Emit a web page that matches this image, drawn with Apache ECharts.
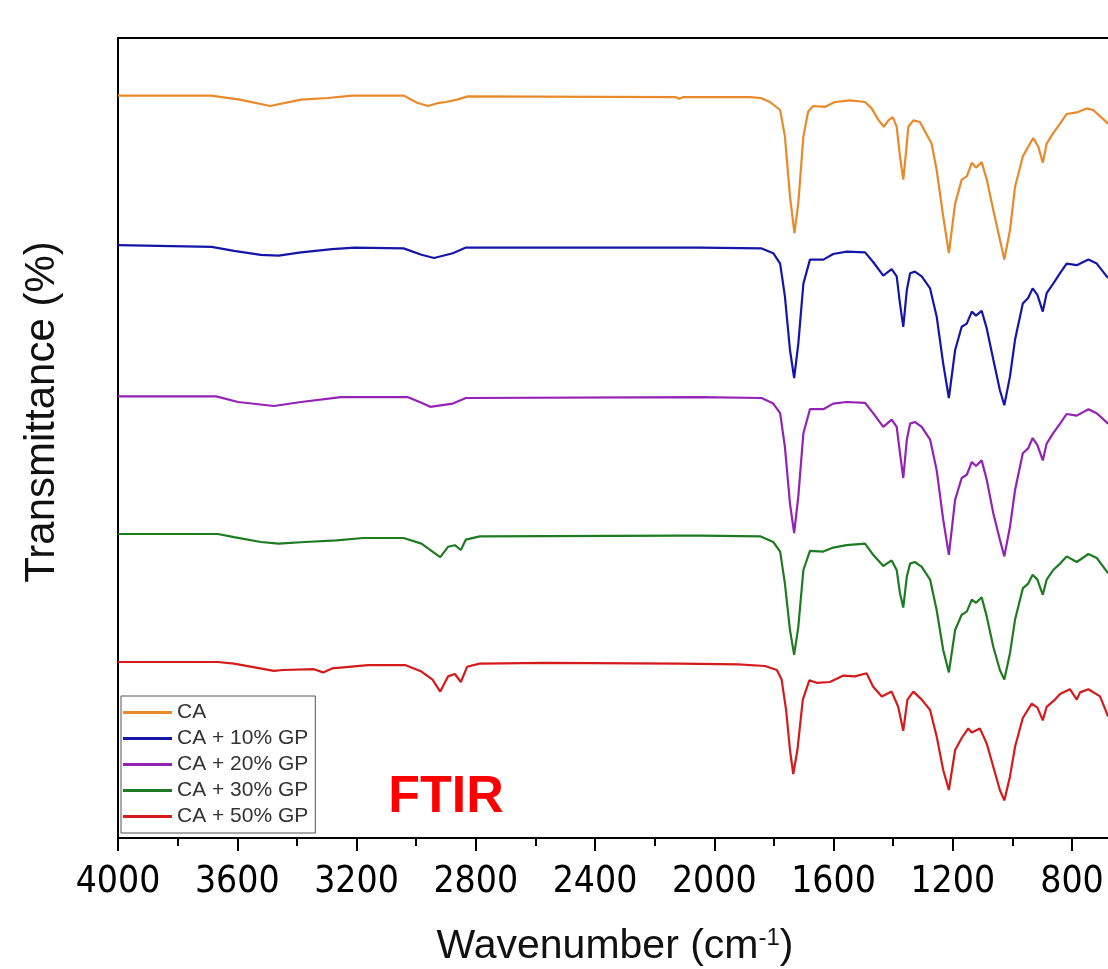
<!DOCTYPE html>
<html>
<head>
<meta charset="utf-8">
<script src="https://cdn.jsdelivr.net/npm/echarts@6/dist/echarts.min.js"></script>
<style>
  html, body { margin: 0; padding: 0; background: #fff; }
  #boot { width: 1108px; height: 969px; }
</style>
</head>
<body>
<div id="boot"></div>
<script>
// spectra: [wavenumber (cm-1), transmittance (offset, a.u.)]
var seriesNames = ['CA', 'CA + 10% GP', 'CA + 20% GP', 'CA + 30% GP', 'CA + 50% GP'];
var seriesColors = ['#E8892A', '#1515A8', '#9322B5', '#1E7B22', '#D41A1A'];

var caData = [
  [4000,92.8],[3688,92.8],[3591,92.3],[3490,91.5],[3386,92.3],[3296,92.5],[3215,92.8],[3041,92.8],
  [2997,91.9],[2960,91.5],[2923,91.9],[2900,92.0],[2863,92.3],[2826,92.7],[2128,92.6],[2118,92.4],
  [2105,92.6],[1881,92.6],[1844,92.5],[1813,92.0],[1779,91.0],[1763,87.7],[1746,80.2],[1731,75.6],
  [1718,79.4],[1701,87.7],[1685,90.8],[1668,91.5],[1628,91.4],[1595,92.0],[1545,92.2],[1494,92.0],
  [1472,91.2],[1450,89.8],[1431,88.9],[1416,89.7],[1401,90.1],[1388,88.9],[1377,85.2],[1366,82.3],
  [1357,85.6],[1349,88.9],[1332,89.7],[1310,89.5],[1287,87.9],[1271,86.8],[1254,83.5],[1232,77.7],
  [1213,73.1],[1192,79.3],[1170,82.3],[1153,82.7],[1136,84.4],[1122,83.8],[1103,84.5],[1086,82.3],
  [1064,78.5],[1042,74.8],[1027,72.3],[1008,76.0],[991,81.4],[965,85.2],[947,86.4],[930,87.5],
  [913,86.4],[898,84.4],[885,86.8],[863,88.1],[840,89.3],[818,90.5],[784,90.7],[751,91.2],
  [729,91.0],[679,89.3]
];
var ca10Data = [
  [4000,74.1],[3686,73.9],[3611,73.4],[3521,72.9],[3461,72.8],[3386,73.2],[3282,73.6],[3207,73.8],
  [3042,73.7],[2982,72.9],[2940,72.5],[2877,73.1],[2833,73.8],[2048,73.8],[1841,73.7],[1802,73.1],
  [1779,71.8],[1763,67.7],[1746,61.0],[1732,57.5],[1718,61.8],[1701,69.3],[1679,72.3],[1634,72.3],
  [1601,73.0],[1556,73.3],[1494,73.2],[1467,72.0],[1433,70.3],[1405,71.1],[1388,70.2],[1377,66.8],
  [1366,63.9],[1354,68.5],[1343,70.6],[1327,70.8],[1304,70.2],[1276,68.7],[1254,65.2],[1232,59.3],
  [1213,55.0],[1192,61.0],[1170,63.9],[1153,64.3],[1136,65.8],[1122,65.3],[1103,65.9],[1086,63.7],
  [1064,59.8],[1042,56.0],[1027,54.1],[1008,57.7],[991,62.3],[965,66.8],[947,67.5],[932,68.7],
  [916,67.9],[898,65.8],[885,68.1],[863,69.3],[840,70.6],[818,71.8],[784,71.6],[745,72.3],
  [717,71.8],[679,70.0]
];
var ca20Data = [
  [4000,55.2],[3671,55.2],[3597,54.5],[3477,54.0],[3386,54.5],[3252,55.1],[3027,55.1],[2982,54.4],
  [2953,53.9],[2877,54.3],[2833,55.0],[2048,55.1],[1841,55.0],[1802,54.3],[1779,53.1],[1763,48.9],
  [1746,41.8],[1732,38.1],[1718,42.7],[1701,50.6],[1679,53.6],[1634,53.6],[1601,54.3],[1556,54.5],
  [1494,54.4],[1467,53.1],[1433,51.4],[1405,52.3],[1388,51.4],[1377,48.1],[1366,45.0],[1354,49.8],
  [1343,51.8],[1327,52.0],[1304,51.4],[1276,49.8],[1254,46.0],[1232,39.8],[1213,35.4],[1192,42.3],
  [1170,45.0],[1153,45.4],[1136,47.0],[1122,46.5],[1103,47.2],[1086,44.8],[1064,40.6],[1042,37.3],
  [1027,35.2],[1008,38.9],[991,43.5],[965,48.1],[947,48.7],[932,50.0],[916,49.1],[898,47.2],
  [885,49.3],[863,50.6],[840,51.8],[818,53.0],[784,52.8],[745,53.6],[717,53.1],[679,51.8]
];
var ca30Data = [
  [4000,38.0],[3665,38.0],[3611,37.6],[3521,37.0],[3461,36.8],[3373,37.0],[3267,37.2],[3177,37.5],
  [3042,37.5],[2982,36.8],[2945,35.8],[2919,35.1],[2893,36.4],[2870,36.6],[2850,36.0],[2833,37.3],
  [2787,37.7],[2115,37.8],[2048,37.8],[1844,37.7],[1802,37.0],[1779,35.8],[1763,31.8],[1746,26.0],
  [1732,22.9],[1718,26.4],[1701,33.5],[1679,35.9],[1634,35.8],[1601,36.3],[1556,36.6],[1494,36.8],
  [1467,35.4],[1433,34.0],[1405,34.7],[1388,33.5],[1377,30.6],[1366,28.8],[1354,32.7],[1343,34.3],
  [1327,34.5],[1304,33.9],[1276,32.3],[1254,28.5],[1232,23.5],[1213,20.7],[1192,26.0],[1170,27.9],
  [1153,28.3],[1136,29.8],[1122,29.4],[1103,30.1],[1086,27.7],[1064,23.9],[1042,21.0],[1027,19.8],
  [1008,23.1],[991,27.3],[965,31.2],[947,31.8],[932,32.9],[916,32.3],[898,30.4],[885,32.3],
  [863,33.5],[840,34.3],[818,35.2],[784,34.5],[745,35.5],[717,35.0],[679,33.1]
];
var ca50Data = [
  [4000,22.0],[3665,22.0],[3611,21.8],[3477,20.9],[3447,21.0],[3343,21.1],[3312,20.7],[3282,21.2],
  [3161,21.6],[3035,21.6],[2982,20.8],[2945,19.8],[2919,18.3],[2893,20.2],[2870,20.5],[2850,19.5],
  [2829,21.4],[2787,21.8],[2564,21.9],[2115,21.8],[1920,21.7],[1830,21.5],[1790,21.0],[1774,19.8],
  [1759,16.0],[1746,11.0],[1735,8.0],[1721,11.0],[1703,17.3],[1681,19.7],[1656,19.4],[1612,19.5],
  [1567,20.3],[1528,20.2],[1489,20.6],[1467,18.9],[1438,17.7],[1405,18.3],[1383,16.4],[1366,13.4],
  [1352,17.3],[1332,18.3],[1304,17.3],[1276,16.0],[1254,12.7],[1232,8.5],[1213,6.0],[1192,11.0],
  [1170,12.5],[1148,13.7],[1136,13.2],[1109,13.7],[1086,11.8],[1064,8.9],[1042,6.0],[1027,4.7],
  [1008,7.7],[991,11.4],[965,15.0],[935,16.8],[916,16.3],[898,14.7],[885,16.4],[857,17.3],
  [840,18.0],[807,18.6],[784,17.3],[773,18.2],[745,18.6],[706,17.7],[679,15.2]
];
var allData = [caData, ca10Data, ca20Data, ca30Data, ca50Data];

var myChart = echarts.init(document.getElementById('boot'));

var series = [];
for (var i = 0; i < allData.length; i++) {
  series.push({
    name: seriesNames[i],
    type: 'line',
    data: allData[i],
    showSymbol: false,
    symbol: 'none',
    color: seriesColors[i],
    lineStyle: { width: 2.2, color: seriesColors[i] }
  });
}

var option = {
  animation: false,
  backgroundColor: '#fff',
  // right side of the axis runs past the picture edge, like the cropped original
  grid: {
    left: 118, top: 38, right: -83.25, bottom: 131,
    containLabel: false, outerBoundsMode: 'none',
    show: true, borderColor: '#000', borderWidth: 2
  },
  legend: {
    orient: 'vertical',
    left: 121, top: 696,
    data: seriesNames,
    icon: 'rect',
    itemWidth: 49, itemHeight: 3,
    itemGap: 5, itemTextGap: 7,
    padding: [6, 7, 6, 2],
    borderColor: '#555', borderWidth: 1,
    backgroundColor: '#fff',
    textStyle: { fontSize: 21, lineHeight: 21, color: '#333', fontFamily: 'Liberation Sans, Arial' }
  },
  xAxis: {
    type: 'value',
    inverse: true,
    min: 400, max: 4000, interval: 400,
    axisLine: { lineStyle: { color: '#000', width: 2 } },
    axisTick: { length: 13, lineStyle: { color: '#000', width: 2 } },
    minorTick: { show: true, splitNumber: 2, length: 8, lineStyle: { color: '#000', width: 2 } },
    splitLine: { show: false },
    axisLabel: {
      margin: 26, fontSize: 37, color: '#000',
      fontFamily: '"Liberation Sans Narrow", "DejaVu Sans Condensed", "Liberation Sans", Arial',
      formatter: function (v) { return String(v); }
    }
  },
  yAxis: {
    type: 'value',
    min: 0, max: 100,
    axisLine: { show: false },
    axisTick: { show: false },
    axisLabel: { show: false },
    splitLine: { show: false }
  },
  graphic: [
    {
      type: 'text', x: 42, y: 412, rotation: Math.PI / 2,
      style: {
        text: 'Transmittance (%)', fontSize: 42, fill: '#111',
        fontFamily: 'Liberation Sans, Arial', align: 'center', verticalAlign: 'middle'
      }
    },
    {
      type: 'text', x: 615, y: 947,
      style: {
        text: 'Wavenumber (cm{sup|-1})', fontSize: 41, fill: '#111',
        fontFamily: 'Liberation Sans, Arial', align: 'center', verticalAlign: 'middle',
        rich: { sup: { fontSize: 24, fill: '#111', verticalAlign: 'top', fontFamily: 'Liberation Sans, Arial' } }
      }
    },
    {
      type: 'text', x: 446, y: 798,
      style: {
        text: 'FTIR', fontSize: 52, fontWeight: 'bold', fill: '#ff0000',
        fontFamily: 'Liberation Sans, Arial', align: 'center', verticalAlign: 'middle'
      }
    }
  ],
  series: series
};

myChart.setOption(option);
</script>
</body>
</html>
